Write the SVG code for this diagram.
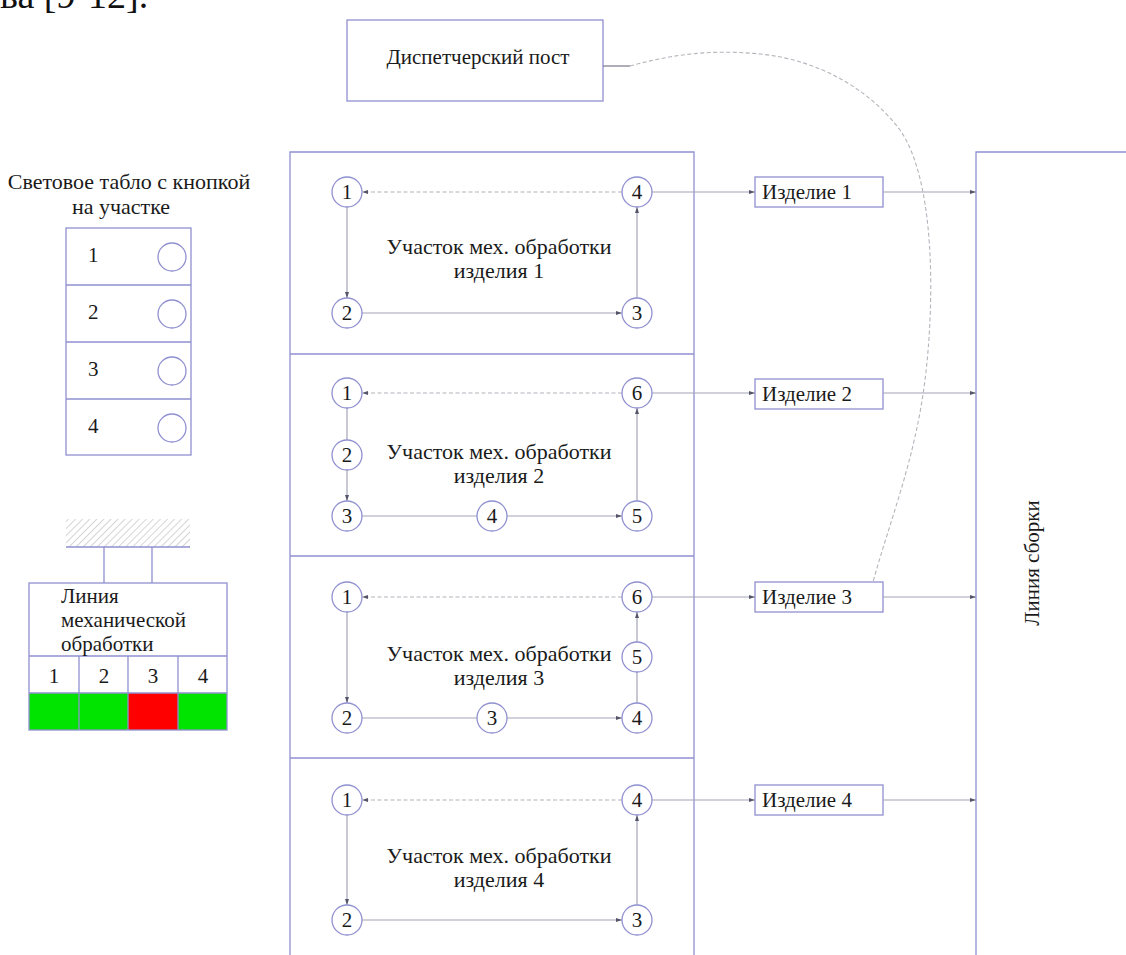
<svg xmlns="http://www.w3.org/2000/svg" width="1126" height="955" viewBox="0 0 1126 955" font-family="Liberation Serif, serif">
  <defs>
    <style>
      .t { font-family: Liberation Serif, serif; font-size: 21px; fill: #1a1a1a; }
      .big { font-size: 22px; }
      .m { text-anchor: middle; }
      .box { fill: none; stroke: #9090d0; stroke-width: 1.3; }
      .st { fill: #ffffff; stroke: #9090d0; stroke-width: 1.3; }
      .flow { fill: none; stroke: #a4a4b8; stroke-width: 1.2; }
      .dash { fill: none; stroke: #b4b4bc; stroke-width: 1.1; stroke-dasharray: 4 2.5; }
    </style>
    <marker id="ah" viewBox="0 0 6 4" refX="6" refY="2" markerWidth="6" markerHeight="4" markerUnits="userSpaceOnUse" orient="auto">
      <path d="M0,0 L6,2 L0,4 z" fill="#55556a"/>
    </marker>
    <pattern id="hatch" width="5" height="5" patternUnits="userSpaceOnUse" patternTransform="rotate(45)">
      <line x1="0" y1="0" x2="0" y2="5" stroke="#b8b8b8" stroke-width="1.2"/>
    </pattern>
  </defs>

  <rect width="1126" height="955" fill="#ffffff"/>

  <!-- tail of the preceding paragraph -->
  <text x="0" y="8" font-family="Liberation Serif, serif" font-size="38" fill="#111">ва [9-12].</text>

  <!-- dispatcher post -->
  <g id="dispatcher">
    <rect class="box" x="347" y="20" width="256" height="81"/>
    <text class="t m" x="478" y="64">Диспетчерский пост</text>
  </g>

  <!-- light board with call buttons -->
  <g id="light-board">
    <text class="t big m" x="129" y="189">Световое табло с кнопкой</text>
    <text class="t big m" x="121" y="214">на участке</text>
    <rect class="box" x="66" y="228" width="125" height="227"/>
    <line class="box" x1="66" y1="285" x2="191" y2="285"/>
    <line class="box" x1="66" y1="342" x2="191" y2="342"/>
    <line class="box" x1="66" y1="399" x2="191" y2="399"/>
    <text class="t" x="88" y="262">1</text>
    <text class="t" x="88" y="319">2</text>
    <text class="t" x="88" y="376">3</text>
    <text class="t" x="88" y="433">4</text>
    <circle class="box" cx="172" cy="257" r="14"/>
    <circle class="box" cx="172" cy="314" r="14"/>
    <circle class="box" cx="172" cy="371" r="14"/>
    <circle class="box" cx="172" cy="428" r="14"/>
  </g>

  <!-- machining line status indicator -->
  <g id="machining-line">
    <rect x="66" y="519" width="124" height="28" fill="url(#hatch)"/>
    <line class="box" x1="66" y1="547" x2="190" y2="547"/>
    <line class="box" x1="104" y1="547" x2="104" y2="583"/>
    <line class="box" x1="152" y1="547" x2="152" y2="583"/>
    <rect x="29" y="693" width="99" height="37" fill="#00e400"/>
    <rect x="128" y="693" width="50" height="37" fill="#ff0000"/>
    <rect x="178" y="693" width="49" height="37" fill="#00e400"/>
    <rect class="box" x="29" y="583" width="198" height="147"/>
    <line class="box" x1="29" y1="656" x2="227" y2="656"/>
    <line class="box" x1="29" y1="693" x2="227" y2="693"/>
    <line class="box" x1="79" y1="656" x2="79" y2="730"/>
    <line class="box" x1="128" y1="656" x2="128" y2="730"/>
    <line class="box" x1="178" y1="656" x2="178" y2="730"/>
    <text class="t" x="61" y="603">Линия</text>
    <text class="t" x="61" y="627">механической</text>
    <text class="t" x="61" y="651">обработки</text>
    <text class="t m" x="54" y="683">1</text>
    <text class="t m" x="104" y="683">2</text>
    <text class="t m" x="153" y="683">3</text>
    <text class="t m" x="203" y="683">4</text>
  </g>

  <!-- machining areas -->
  <g id="area-1">
    <path class="box" d="M290,354 V152 H694 V354"/>
    <text class="t big m" x="499" y="254">Участок мех. обработки</text>
    <text class="t big m" x="499" y="278">изделия 1</text>
  </g>
  <g id="area-2">
    <line class="box" x1="290" y1="354" x2="694" y2="354"/>
    <path class="box" d="M290,354 V556 M694,354 V556"/>
    <text class="t big m" x="499" y="459">Участок мех. обработки</text>
    <text class="t big m" x="499" y="483">изделия 2</text>
  </g>
  <g id="area-3">
    <line class="box" x1="290" y1="556" x2="694" y2="556"/>
    <path class="box" d="M290,556 V758 M694,556 V758"/>
    <text class="t big m" x="499" y="661">Участок мех. обработки</text>
    <text class="t big m" x="499" y="685">изделия 3</text>
  </g>
  <g id="area-4">
    <line class="box" x1="290" y1="758" x2="694" y2="758"/>
    <path class="box" d="M290,758 V955 M694,758 V955"/>
    <text class="t big m" x="499" y="863">Участок мех. обработки</text>
    <text class="t big m" x="499" y="887">изделия 4</text>
  </g>

  <!-- products -->
  <g id="product-1"><rect class="box" x="755" y="177" width="128" height="30"/><text class="t" x="762" y="199">Изделие 1</text></g>
  <g id="product-2"><rect class="box" x="755" y="379" width="128" height="30"/><text class="t" x="762" y="401">Изделие 2</text></g>
  <g id="product-3"><rect class="st" x="755" y="582" width="128" height="30"/><text class="t" x="762" y="604">Изделие 3</text></g>
  <g id="product-4"><rect class="box" x="755" y="785" width="128" height="30"/><text class="t" x="762" y="807">Изделие 4</text></g>

  <!-- assembly line -->
  <g id="assembly-line">
    <path class="box" d="M976,955 V152 H1126"/>
    <text class="t m" transform="translate(1039,563) rotate(-90)">Линия сборки</text>
  </g>

  <!-- connectors -->
  <g id="connectors">
    <!-- area 1 -->
    <line class="dash" x1="622" y1="192" x2="362" y2="192" marker-end="url(#ah)"/>
    <line class="flow" x1="347" y1="207" x2="347" y2="298" marker-end="url(#ah)"/>
    <line class="flow" x1="362" y1="313" x2="622" y2="313" marker-end="url(#ah)"/>
    <line class="flow" x1="637" y1="298" x2="637" y2="207" marker-end="url(#ah)"/>
    <!-- area 2 -->
    <line class="dash" x1="622" y1="393" x2="362" y2="393" marker-end="url(#ah)"/>
    <line class="flow" x1="347" y1="408" x2="347" y2="440"/>
    <line class="flow" x1="347" y1="470" x2="347" y2="501" marker-end="url(#ah)"/>
    <line class="flow" x1="362" y1="516" x2="477" y2="516"/>
    <line class="flow" x1="507" y1="516" x2="622" y2="516" marker-end="url(#ah)"/>
    <line class="flow" x1="637" y1="501" x2="637" y2="408" marker-end="url(#ah)"/>
    <!-- area 3 -->
    <line class="dash" x1="622" y1="597" x2="362" y2="597" marker-end="url(#ah)"/>
    <line class="flow" x1="347" y1="612" x2="347" y2="703" marker-end="url(#ah)"/>
    <line class="flow" x1="362" y1="718" x2="477" y2="718"/>
    <line class="flow" x1="507" y1="718" x2="622" y2="718" marker-end="url(#ah)"/>
    <line class="flow" x1="637" y1="703" x2="637" y2="672"/>
    <line class="flow" x1="637" y1="642" x2="637" y2="612" marker-end="url(#ah)"/>
    <!-- area 4 -->
    <line class="dash" x1="622" y1="800" x2="362" y2="800" marker-end="url(#ah)"/>
    <line class="flow" x1="347" y1="815" x2="347" y2="905" marker-end="url(#ah)"/>
    <line class="flow" x1="362" y1="920" x2="622" y2="920" marker-end="url(#ah)"/>
    <line class="flow" x1="637" y1="905" x2="637" y2="815" marker-end="url(#ah)"/>
    <!-- areas to products -->
    <line class="flow" x1="652" y1="192" x2="755" y2="192" marker-end="url(#ah)"/>
    <line class="flow" x1="652" y1="393" x2="755" y2="393" marker-end="url(#ah)"/>
    <line class="flow" x1="652" y1="597" x2="755" y2="597" marker-end="url(#ah)"/>
    <line class="flow" x1="652" y1="800" x2="755" y2="800" marker-end="url(#ah)"/>
    <!-- products to assembly line -->
    <line class="flow" x1="883" y1="192" x2="976" y2="192" marker-end="url(#ah)"/>
    <line class="flow" x1="883" y1="393" x2="976" y2="393" marker-end="url(#ah)"/>
    <line class="flow" x1="883" y1="597" x2="976" y2="597" marker-end="url(#ah)"/>
    <line class="flow" x1="883" y1="800" x2="976" y2="800" marker-end="url(#ah)"/>
    <!-- signal link from product 3 to dispatcher -->
    <line x1="603" y1="66" x2="630" y2="66" stroke="#77778a" stroke-width="1.2"/>
    <path class="dash" d="M630,66 C680,52 720,50 760,54 C820,60 870,90 900,130 C935,180 935,300 925,380 C915,460 890,520 873,582"/>
  </g>

  <!-- station circles -->
  <g id="stations">
    <g id="s1-1"><circle class="st" cx="347" cy="192" r="15"/><text class="t m" x="347" y="199">1</text></g>
    <g id="s1-2"><circle class="st" cx="347" cy="313" r="15"/><text class="t m" x="347" y="320">2</text></g>
    <g id="s1-3"><circle class="st" cx="637" cy="313" r="15"/><text class="t m" x="637" y="320">3</text></g>
    <g id="s1-4"><circle class="st" cx="637" cy="192" r="15"/><text class="t m" x="637" y="199">4</text></g>

    <g id="s2-1"><circle class="st" cx="347" cy="393" r="15"/><text class="t m" x="347" y="400">1</text></g>
    <g id="s2-2"><circle class="st" cx="347" cy="455" r="15"/><text class="t m" x="347" y="462">2</text></g>
    <g id="s2-3"><circle class="st" cx="347" cy="516" r="15"/><text class="t m" x="347" y="523">3</text></g>
    <g id="s2-4"><circle class="st" cx="492" cy="516" r="15"/><text class="t m" x="492" y="523">4</text></g>
    <g id="s2-5"><circle class="st" cx="637" cy="516" r="15"/><text class="t m" x="637" y="523">5</text></g>
    <g id="s2-6"><circle class="st" cx="637" cy="393" r="15"/><text class="t m" x="637" y="400">6</text></g>

    <g id="s3-1"><circle class="st" cx="347" cy="597" r="15"/><text class="t m" x="347" y="604">1</text></g>
    <g id="s3-2"><circle class="st" cx="347" cy="718" r="15"/><text class="t m" x="347" y="725">2</text></g>
    <g id="s3-3"><circle class="st" cx="492" cy="718" r="15"/><text class="t m" x="492" y="725">3</text></g>
    <g id="s3-4"><circle class="st" cx="637" cy="718" r="15"/><text class="t m" x="637" y="725">4</text></g>
    <g id="s3-5"><circle class="st" cx="637" cy="657" r="15"/><text class="t m" x="637" y="664">5</text></g>
    <g id="s3-6"><circle class="st" cx="637" cy="597" r="15"/><text class="t m" x="637" y="604">6</text></g>

    <g id="s4-1"><circle class="st" cx="347" cy="800" r="15"/><text class="t m" x="347" y="807">1</text></g>
    <g id="s4-2"><circle class="st" cx="347" cy="920" r="15"/><text class="t m" x="347" y="927">2</text></g>
    <g id="s4-3"><circle class="st" cx="637" cy="920" r="15"/><text class="t m" x="637" y="927">3</text></g>
    <g id="s4-4"><circle class="st" cx="637" cy="800" r="15"/><text class="t m" x="637" y="807">4</text></g>
  </g>
</svg>
